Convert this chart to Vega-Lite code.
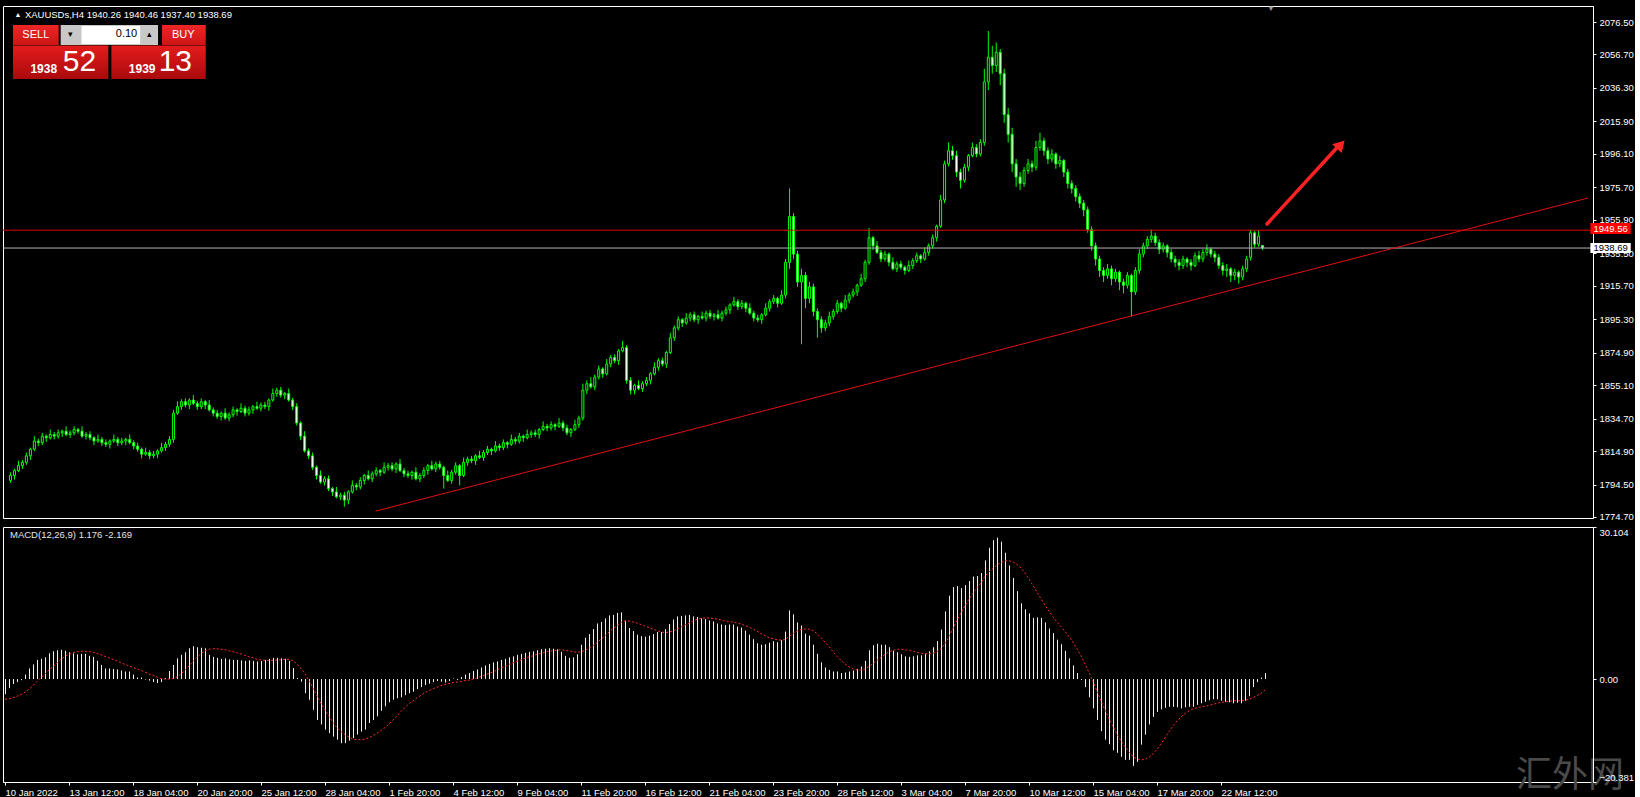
{
"$schema":"https://vega.github.io/schema/vega-lite/v6.json",
"background":"#000000",
"padding":{"left":2,"top":4,"right":0,"bottom":0},
"spacing":4,
"config":{"view":{"stroke":"#ffffff","strokeWidth":1},"axis":{"labelFont":"Liberation Sans","labelFontSize":9.5,"labelColor":"#ffffff","tickColor":"#ffffff","domainColor":"#ffffff","grid":false,"tickSize":3,"labelOverlap":false},"text":{"font":"Liberation Sans"}},
"datasets":{"bars":[
{"i":0,"o":1797,"h":1802,"l":1795.5,"c":1800,"m":-3,"s":-4},
{"i":1,"o":1800,"h":1804,"l":1797.5,"c":1803,"m":-1.8,"s":-3.9},
{"i":2,"o":1803,"h":1809,"l":1802,"c":1806,"m":-1,"s":-3.7},
{"i":3,"o":1806,"h":1809.5,"l":1804,"c":1808,"m":-0.6,"s":-3.4},
{"i":4,"o":1808,"h":1814,"l":1806.5,"c":1812,"m":-0.2,"s":-3.1},
{"i":5,"o":1812,"h":1817,"l":1809.5,"c":1816,"m":0.9,"s":-2.6},
{"i":6,"o":1816,"h":1824,"l":1815,"c":1821,"m":2.1,"s":-2},
{"i":7,"o":1821,"h":1822.5,"l":1818,"c":1820,"m":2.9,"s":-1.3},
{"i":8,"o":1820,"h":1826,"l":1818.5,"c":1824,"m":3.8,"s":-0.5},
{"i":9,"o":1824,"h":1825,"l":1820.5,"c":1823,"m":4,"s":0.3},
{"i":10,"o":1823,"h":1828,"l":1822,"c":1825,"m":4.3,"s":1},
{"i":11,"o":1825,"h":1826.5,"l":1822,"c":1824,"m":5.1,"s":1.8},
{"i":12,"o":1824,"h":1828,"l":1822.5,"c":1826,"m":5.5,"s":2.5},
{"i":13,"o":1826,"h":1828,"l":1823.5,"c":1827,"m":5.7,"s":3.2},
{"i":14,"o":1827,"h":1830,"l":1824,"c":1825,"m":5.8,"s":3.9},
{"i":15,"o":1825,"h":1827.5,"l":1823,"c":1826,"m":5.6,"s":4.5},
{"i":16,"o":1826,"h":1830,"l":1824.5,"c":1828,"m":5.3,"s":4.9},
{"i":17,"o":1828,"h":1829,"l":1825.5,"c":1827,"m":5.1,"s":5.2},
{"i":18,"o":1827,"h":1830,"l":1823,"c":1824,"m":4.9,"s":5.4},
{"i":19,"o":1824,"h":1826.5,"l":1822,"c":1825,"m":5,"s":5.5},
{"i":20,"o":1825,"h":1827,"l":1821.5,"c":1823,"m":5,"s":5.5},
{"i":21,"o":1823,"h":1824,"l":1818.5,"c":1821,"m":4.6,"s":5.4},
{"i":22,"o":1821,"h":1825,"l":1820,"c":1822,"m":4.4,"s":5.3},
{"i":23,"o":1822,"h":1823.5,"l":1818,"c":1820,"m":3.6,"s":5.1},
{"i":24,"o":1820,"h":1822,"l":1817.5,"c":1819,"m":2.8,"s":4.8},
{"i":25,"o":1819,"h":1822,"l":1816.5,"c":1821,"m":2.1,"s":4.5},
{"i":26,"o":1821,"h":1825,"l":1820,"c":1822,"m":2.1,"s":4.2},
{"i":27,"o":1822,"h":1823.5,"l":1818,"c":1820,"m":2,"s":3.9},
{"i":28,"o":1820,"h":1823,"l":1818.5,"c":1821,"m":1.9,"s":3.6},
{"i":29,"o":1821,"h":1823,"l":1818.5,"c":1822,"m":1.7,"s":3.2},
{"i":30,"o":1822,"h":1825,"l":1819,"c":1820,"m":1.5,"s":2.9},
{"i":31,"o":1820,"h":1821.5,"l":1816,"c":1818,"m":1.5,"s":2.6},
{"i":32,"o":1818,"h":1820,"l":1814.5,"c":1816,"m":0.9,"s":2.3},
{"i":33,"o":1816,"h":1817,"l":1810.5,"c":1813,"m":0.3,"s":2},
{"i":34,"o":1813,"h":1817,"l":1812,"c":1814,"m":0.3,"s":1.7},
{"i":35,"o":1814,"h":1815.5,"l":1810,"c":1812,"m":-0.1,"s":1.4},
{"i":36,"o":1812,"h":1815,"l":1810.5,"c":1813,"m":-0.3,"s":1},
{"i":37,"o":1813,"h":1816,"l":1810.5,"c":1815,"m":-0.6,"s":0.7},
{"i":38,"o":1815,"h":1820,"l":1814,"c":1817,"m":-0.8,"s":0.4},
{"i":39,"o":1817,"h":1820.5,"l":1815,"c":1819,"m":-0.6,"s":0.1},
{"i":40,"o":1819,"h":1824,"l":1817.5,"c":1822,"m":0.2,"s":0},
{"i":41,"o":1822,"h":1840,"l":1820,"c":1838,"m":1.6,"s":0},
{"i":42,"o":1838,"h":1845,"l":1837,"c":1842,"m":2.8,"s":0.1},
{"i":43,"o":1842,"h":1846.5,"l":1840,"c":1845,"m":4.1,"s":0.4},
{"i":44,"o":1845,"h":1847,"l":1841.5,"c":1843,"m":4.8,"s":1},
{"i":45,"o":1843,"h":1847,"l":1840.5,"c":1846,"m":5.3,"s":1.8},
{"i":46,"o":1846,"h":1849,"l":1843,"c":1844,"m":6.1,"s":2.6},
{"i":47,"o":1844,"h":1845.5,"l":1840,"c":1842,"m":6.5,"s":3.5},
{"i":48,"o":1842,"h":1847,"l":1840.5,"c":1845,"m":6.3,"s":4.3},
{"i":49,"o":1845,"h":1846,"l":1840.5,"c":1843,"m":6.2,"s":5},
{"i":50,"o":1843,"h":1846,"l":1839,"c":1840,"m":6.1,"s":5.6},
{"i":51,"o":1840,"h":1841.5,"l":1836,"c":1838,"m":4.8,"s":5.9},
{"i":52,"o":1838,"h":1840,"l":1834.5,"c":1836,"m":4.4,"s":6},
{"i":53,"o":1836,"h":1839,"l":1833.5,"c":1838,"m":4.2,"s":6},
{"i":54,"o":1838,"h":1841,"l":1834,"c":1835,"m":4,"s":5.9},
{"i":55,"o":1835,"h":1838.5,"l":1833,"c":1837,"m":4.1,"s":5.8},
{"i":56,"o":1837,"h":1842,"l":1835.5,"c":1840,"m":3.9,"s":5.6},
{"i":57,"o":1840,"h":1841,"l":1836.5,"c":1839,"m":3.8,"s":5.4},
{"i":58,"o":1839,"h":1844,"l":1838,"c":1841,"m":3.8,"s":5.2},
{"i":59,"o":1841,"h":1842.5,"l":1836,"c":1838,"m":3.7,"s":5},
{"i":60,"o":1838,"h":1842,"l":1836.5,"c":1840,"m":3.6,"s":4.7},
{"i":61,"o":1840,"h":1843,"l":1837.5,"c":1842,"m":3.7,"s":4.4},
{"i":62,"o":1842,"h":1845,"l":1840,"c":1841,"m":3.6,"s":4.2},
{"i":63,"o":1841,"h":1844.5,"l":1839,"c":1843,"m":3.5,"s":3.9},
{"i":64,"o":1843,"h":1845,"l":1840.5,"c":1842,"m":3.6,"s":3.8},
{"i":65,"o":1842,"h":1847,"l":1839.5,"c":1846,"m":3.8,"s":3.7},
{"i":66,"o":1846,"h":1853,"l":1845,"c":1850,"m":4,"s":3.7},
{"i":67,"o":1850,"h":1853.5,"l":1848,"c":1852,"m":4.2,"s":3.7},
{"i":68,"o":1852,"h":1854,"l":1847.5,"c":1849,"m":4.2,"s":3.8},
{"i":69,"o":1849,"h":1851,"l":1846.5,"c":1850,"m":4.1,"s":3.8},
{"i":70,"o":1850,"h":1853,"l":1845,"c":1846,"m":4,"s":3.9},
{"i":71,"o":1846,"h":1847.5,"l":1840,"c":1842,"m":3.6,"s":3.9},
{"i":72,"o":1842,"h":1844,"l":1830.5,"c":1832,"m":2.2,"s":3.6},
{"i":73,"o":1832,"h":1833,"l":1821.5,"c":1824,"m":0.2,"s":3},
{"i":74,"o":1824,"h":1827,"l":1814,"c":1815,"m":-0.5,"s":2.1},
{"i":75,"o":1815,"h":1816.5,"l":1810,"c":1812,"m":-2.8,"s":1},
{"i":76,"o":1812,"h":1814,"l":1803.5,"c":1805,"m":-4.1,"s":-0.3},
{"i":77,"o":1805,"h":1806,"l":1797.5,"c":1800,"m":-6.1,"s":-1.8},
{"i":78,"o":1800,"h":1803,"l":1795,"c":1796,"m":-8.1,"s":-3.3},
{"i":79,"o":1796,"h":1799.5,"l":1794,"c":1798,"m":-9,"s":-4.8},
{"i":80,"o":1798,"h":1800,"l":1790.5,"c":1792,"m":-10,"s":-6.1},
{"i":81,"o":1792,"h":1793,"l":1787.5,"c":1790,"m":-10.7,"s":-7.4},
{"i":82,"o":1790,"h":1793,"l":1786,"c":1787,"m":-11.4,"s":-8.6},
{"i":83,"o":1787,"h":1789.5,"l":1785,"c":1788,"m":-12,"s":-9.6},
{"i":84,"o":1788,"h":1790,"l":1781,"c":1785,"m":-12.7,"s":-10.4},
{"i":85,"o":1785,"h":1791,"l":1782.5,"c":1790,"m":-12.7,"s":-11},
{"i":86,"o":1790,"h":1797,"l":1789,"c":1794,"m":-12.2,"s":-11.5},
{"i":87,"o":1794,"h":1795.5,"l":1791,"c":1793,"m":-11.7,"s":-11.9},
{"i":88,"o":1793,"h":1799,"l":1791.5,"c":1797,"m":-11,"s":-12},
{"i":89,"o":1797,"h":1801,"l":1794.5,"c":1800,"m":-10.4,"s":-12},
{"i":90,"o":1800,"h":1803,"l":1797,"c":1798,"m":-10,"s":-11.9},
{"i":91,"o":1798,"h":1802.5,"l":1796,"c":1801,"m":-8.7,"s":-11.6},
{"i":92,"o":1801,"h":1805,"l":1799.5,"c":1803,"m":-8.1,"s":-11.2},
{"i":93,"o":1803,"h":1804,"l":1799.5,"c":1802,"m":-7.4,"s":-10.7},
{"i":94,"o":1802,"h":1808,"l":1801,"c":1805,"m":-6.3,"s":-10.2},
{"i":95,"o":1805,"h":1807.5,"l":1803,"c":1806,"m":-5.4,"s":-9.6},
{"i":96,"o":1806,"h":1808,"l":1802.5,"c":1804,"m":-4.6,"s":-8.9},
{"i":97,"o":1804,"h":1808,"l":1801.5,"c":1807,"m":-4.1,"s":-8.1},
{"i":98,"o":1807,"h":1810,"l":1802,"c":1803,"m":-3.8,"s":-7.3},
{"i":99,"o":1803,"h":1804.5,"l":1799,"c":1801,"m":-3.6,"s":-6.4},
{"i":100,"o":1801,"h":1803,"l":1798.5,"c":1800,"m":-3.2,"s":-5.6},
{"i":101,"o":1800,"h":1803,"l":1797.5,"c":1802,"m":-2.8,"s":-4.9},
{"i":102,"o":1802,"h":1805,"l":1797,"c":1798,"m":-2.5,"s":-4.3},
{"i":103,"o":1798,"h":1801.5,"l":1796,"c":1800,"m":-2,"s":-3.7},
{"i":104,"o":1800,"h":1805,"l":1798.5,"c":1803,"m":-1.6,"s":-3.2},
{"i":105,"o":1803,"h":1807,"l":1800.5,"c":1806,"m":-1.2,"s":-2.7},
{"i":106,"o":1806,"h":1809,"l":1803,"c":1804,"m":-0.9,"s":-2.3},
{"i":107,"o":1804,"h":1808.5,"l":1802,"c":1807,"m":-0.6,"s":-1.9},
{"i":108,"o":1807,"h":1809,"l":1803.5,"c":1805,"m":-0.4,"s":-1.6},
{"i":109,"o":1805,"h":1806,"l":1792,"c":1800,"m":-0.5,"s":-1.3},
{"i":110,"o":1800,"h":1803,"l":1796,"c":1797,"m":-0.7,"s":-1.1},
{"i":111,"o":1797,"h":1803.5,"l":1795,"c":1802,"m":-0.4,"s":-0.9},
{"i":112,"o":1802,"h":1808,"l":1800.5,"c":1806,"m":0.1,"s":-0.7},
{"i":113,"o":1806,"h":1807,"l":1794,"c":1800,"m":-0.2,"s":-0.6},
{"i":114,"o":1800,"h":1811,"l":1799,"c":1808,"m":0.4,"s":-0.5},
{"i":115,"o":1808,"h":1811.5,"l":1806,"c":1810,"m":0.9,"s":-0.3},
{"i":116,"o":1810,"h":1812,"l":1807.5,"c":1809,"m":1.2,"s":-0.2},
{"i":117,"o":1809,"h":1813,"l":1806.5,"c":1812,"m":1.6,"s":0},
{"i":118,"o":1812,"h":1815,"l":1810,"c":1811,"m":1.9,"s":0.2},
{"i":119,"o":1811,"h":1815.5,"l":1809,"c":1814,"m":2.3,"s":0.5},
{"i":120,"o":1814,"h":1818,"l":1812.5,"c":1816,"m":2.7,"s":0.8},
{"i":121,"o":1816,"h":1817,"l":1812.5,"c":1815,"m":3,"s":1.1},
{"i":122,"o":1815,"h":1821,"l":1814,"c":1818,"m":3.3,"s":1.4},
{"i":123,"o":1818,"h":1819.5,"l":1815,"c":1817,"m":3.5,"s":1.8},
{"i":124,"o":1817,"h":1822,"l":1815.5,"c":1820,"m":3.8,"s":2.2},
{"i":125,"o":1820,"h":1821,"l":1816.5,"c":1819,"m":4,"s":2.5},
{"i":126,"o":1819,"h":1825,"l":1818,"c":1822,"m":4.3,"s":2.9},
{"i":127,"o":1822,"h":1823.5,"l":1819,"c":1821,"m":4.5,"s":3.2},
{"i":128,"o":1821,"h":1826,"l":1819.5,"c":1824,"m":4.8,"s":3.5},
{"i":129,"o":1824,"h":1825,"l":1820.5,"c":1823,"m":5,"s":3.8},
{"i":130,"o":1823,"h":1828,"l":1822,"c":1825,"m":5.2,"s":4.1},
{"i":131,"o":1825,"h":1827.5,"l":1823,"c":1826,"m":5.4,"s":4.4},
{"i":132,"o":1826,"h":1828,"l":1823.5,"c":1825,"m":5.5,"s":4.6},
{"i":133,"o":1825,"h":1829,"l":1822.5,"c":1828,"m":5.7,"s":4.9},
{"i":134,"o":1828,"h":1833,"l":1827,"c":1830,"m":5.9,"s":5.1},
{"i":135,"o":1830,"h":1831.5,"l":1827,"c":1829,"m":6,"s":5.3},
{"i":136,"o":1829,"h":1833,"l":1827.5,"c":1831,"m":6.1,"s":5.5},
{"i":137,"o":1831,"h":1832,"l":1827.5,"c":1830,"m":6,"s":5.6},
{"i":138,"o":1830,"h":1835,"l":1829,"c":1832,"m":5.9,"s":5.7},
{"i":139,"o":1832,"h":1833.5,"l":1827,"c":1829,"m":5.4,"s":5.8},
{"i":140,"o":1829,"h":1831,"l":1824.5,"c":1826,"m":4.6,"s":5.7},
{"i":141,"o":1826,"h":1829,"l":1823.5,"c":1828,"m":4.2,"s":5.6},
{"i":142,"o":1828,"h":1834,"l":1827,"c":1831,"m":4.3,"s":5.4},
{"i":143,"o":1831,"h":1836.5,"l":1829,"c":1835,"m":4.9,"s":5.3},
{"i":144,"o":1835,"h":1856,"l":1833.5,"c":1852,"m":6.8,"s":5.4},
{"i":145,"o":1852,"h":1858,"l":1849.5,"c":1856,"m":8.2,"s":5.7},
{"i":146,"o":1856,"h":1860,"l":1853,"c":1854,"m":8.9,"s":6.1},
{"i":147,"o":1854,"h":1861.5,"l":1852,"c":1860,"m":9.9,"s":6.6},
{"i":148,"o":1860,"h":1867,"l":1858.5,"c":1865,"m":11,"s":7.2},
{"i":149,"o":1865,"h":1866,"l":1859.5,"c":1862,"m":11.3,"s":7.9},
{"i":150,"o":1862,"h":1871,"l":1861,"c":1868,"m":12,"s":8.6},
{"i":151,"o":1868,"h":1873.5,"l":1866,"c":1872,"m":12.6,"s":9.3},
{"i":152,"o":1872,"h":1874,"l":1868.5,"c":1870,"m":12.7,"s":10},
{"i":153,"o":1870,"h":1877,"l":1867.5,"c":1876,"m":13.1,"s":10.6},
{"i":154,"o":1876,"h":1882,"l":1875,"c":1878,"m":13.2,"s":11.2},
{"i":155,"o":1878,"h":1879.5,"l":1856,"c":1858,"m":11.6,"s":11.5},
{"i":156,"o":1858,"h":1860,"l":1849.5,"c":1852,"m":10.1,"s":11.5},
{"i":157,"o":1852,"h":1856,"l":1849.5,"c":1855,"m":9.5,"s":11.3},
{"i":158,"o":1855,"h":1858,"l":1852,"c":1853,"m":8.8,"s":11.1},
{"i":159,"o":1853,"h":1857.5,"l":1851,"c":1856,"m":8.5,"s":10.8},
{"i":160,"o":1856,"h":1860,"l":1854.5,"c":1858,"m":8.4,"s":10.5},
{"i":161,"o":1858,"h":1863,"l":1855.5,"c":1862,"m":8.6,"s":10.2},
{"i":162,"o":1862,"h":1869,"l":1861,"c":1866,"m":8.9,"s":9.9},
{"i":163,"o":1866,"h":1871.5,"l":1864,"c":1870,"m":9.3,"s":9.6},
{"i":164,"o":1870,"h":1872,"l":1866.5,"c":1868,"m":9.3,"s":9.3},
{"i":165,"o":1868,"h":1876,"l":1865.5,"c":1875,"m":9.9,"s":9.2},
{"i":166,"o":1875,"h":1887,"l":1874,"c":1884,"m":10.9,"s":9.3},
{"i":167,"o":1884,"h":1891.5,"l":1882,"c":1890,"m":11.8,"s":9.5},
{"i":168,"o":1890,"h":1897,"l":1888.5,"c":1895,"m":12.4,"s":9.9},
{"i":169,"o":1895,"h":1896,"l":1890.5,"c":1893,"m":12.5,"s":10.3},
{"i":170,"o":1893,"h":1899,"l":1892,"c":1896,"m":12.6,"s":10.7},
{"i":171,"o":1896,"h":1899.5,"l":1894,"c":1898,"m":12.7,"s":11.1},
{"i":172,"o":1898,"h":1900,"l":1893.5,"c":1895,"m":12.4,"s":11.5},
{"i":173,"o":1895,"h":1898,"l":1892.5,"c":1897,"m":12.3,"s":11.8},
{"i":174,"o":1897,"h":1900,"l":1895,"c":1896,"m":12,"s":12},
{"i":175,"o":1896,"h":1900.5,"l":1894,"c":1899,"m":11.9,"s":12.1},
{"i":176,"o":1899,"h":1901,"l":1895.5,"c":1897,"m":11.6,"s":12.1},
{"i":177,"o":1897,"h":1899,"l":1894.5,"c":1898,"m":11.4,"s":12},
{"i":178,"o":1898,"h":1901,"l":1895,"c":1896,"m":11,"s":11.9},
{"i":179,"o":1896,"h":1900.5,"l":1894,"c":1899,"m":10.8,"s":11.7},
{"i":180,"o":1899,"h":1903,"l":1897.5,"c":1901,"m":10.7,"s":11.5},
{"i":181,"o":1901,"h":1905,"l":1898.5,"c":1904,"m":10.8,"s":11.4},
{"i":182,"o":1904,"h":1909,"l":1903,"c":1906,"m":10.8,"s":11.3},
{"i":183,"o":1906,"h":1907.5,"l":1901,"c":1903,"m":10.4,"s":11.1},
{"i":184,"o":1903,"h":1907,"l":1901.5,"c":1905,"m":10.2,"s":10.9},
{"i":185,"o":1905,"h":1906,"l":1899.5,"c":1902,"m":9.6,"s":10.6},
{"i":186,"o":1902,"h":1905,"l":1898,"c":1899,"m":8.8,"s":10.3},
{"i":187,"o":1899,"h":1900.5,"l":1894,"c":1896,"m":7.9,"s":9.9},
{"i":188,"o":1896,"h":1898,"l":1893.5,"c":1895,"m":7.1,"s":9.5},
{"i":189,"o":1895,"h":1899,"l":1892.5,"c":1898,"m":6.8,"s":9},
{"i":190,"o":1898,"h":1905,"l":1897,"c":1902,"m":6.9,"s":8.6},
{"i":191,"o":1902,"h":1907.5,"l":1900,"c":1906,"m":7.2,"s":8.2},
{"i":192,"o":1906,"h":1910,"l":1904.5,"c":1908,"m":7.5,"s":8},
{"i":193,"o":1908,"h":1909,"l":1902.5,"c":1905,"m":7.3,"s":7.8},
{"i":194,"o":1905,"h":1913,"l":1904,"c":1910,"m":7.7,"s":7.7},
{"i":195,"o":1910,"h":1932,"l":1908,"c":1930,"m":9.4,"s":7.8},
{"i":196,"o":1930,"h":1975,"l":1926,"c":1958,"m":13.6,"s":8.4},
{"i":197,"o":1958,"h":1960,"l":1932,"c":1935,"m":12.8,"s":9},
{"i":198,"o":1935,"h":1937,"l":1915,"c":1918,"m":11.2,"s":9.5},
{"i":199,"o":1918,"h":1926,"l":1880,"c":1922,"m":10.6,"s":9.8},
{"i":200,"o":1922,"h":1924,"l":1902,"c":1908,"m":9,"s":9.9},
{"i":201,"o":1908,"h":1918,"l":1905,"c":1915,"m":8.6,"s":9.9},
{"i":202,"o":1915,"h":1917,"l":1897,"c":1900,"m":6.8,"s":9.6},
{"i":203,"o":1900,"h":1902,"l":1884,"c":1895,"m":5,"s":9},
{"i":204,"o":1895,"h":1897,"l":1887,"c":1890,"m":3.3,"s":8.2},
{"i":205,"o":1890,"h":1895,"l":1888,"c":1893,"m":2.3,"s":7.3},
{"i":206,"o":1893,"h":1900,"l":1891,"c":1897,"m":1.8,"s":6.4},
{"i":207,"o":1897,"h":1901.5,"l":1895,"c":1900,"m":1.5,"s":5.4},
{"i":208,"o":1900,"h":1907,"l":1898.5,"c":1905,"m":1.5,"s":4.5},
{"i":209,"o":1905,"h":1906,"l":1899.5,"c":1902,"m":1.2,"s":3.7},
{"i":210,"o":1902,"h":1910,"l":1901,"c":1907,"m":1.3,"s":3},
{"i":211,"o":1907,"h":1911.5,"l":1905,"c":1910,"m":1.5,"s":2.4},
{"i":212,"o":1910,"h":1914,"l":1908.5,"c":1912,"m":1.7,"s":2},
{"i":213,"o":1912,"h":1917,"l":1909.5,"c":1916,"m":2,"s":1.8},
{"i":214,"o":1916,"h":1923,"l":1915,"c":1920,"m":2.5,"s":1.8},
{"i":215,"o":1920,"h":1931.5,"l":1918,"c":1930,"m":3.6,"s":2},
{"i":216,"o":1930,"h":1951,"l":1928.5,"c":1945,"m":5.7,"s":2.5},
{"i":217,"o":1945,"h":1946,"l":1937.5,"c":1940,"m":6.7,"s":3.1},
{"i":218,"o":1940,"h":1943,"l":1935,"c":1936,"m":7,"s":3.7},
{"i":219,"o":1936,"h":1937.5,"l":1930,"c":1932,"m":6.8,"s":4.3},
{"i":220,"o":1932,"h":1937,"l":1930.5,"c":1935,"m":6.8,"s":4.9},
{"i":221,"o":1935,"h":1936,"l":1927.5,"c":1930,"m":6.3,"s":5.4},
{"i":222,"o":1930,"h":1933,"l":1925,"c":1926,"m":5.6,"s":5.7},
{"i":223,"o":1926,"h":1930.5,"l":1924,"c":1929,"m":5.3,"s":5.9},
{"i":224,"o":1929,"h":1931,"l":1925.5,"c":1927,"m":4.9,"s":5.9},
{"i":225,"o":1927,"h":1928,"l":1922.5,"c":1925,"m":4.5,"s":5.8},
{"i":226,"o":1925,"h":1931,"l":1924,"c":1928,"m":4.4,"s":5.7},
{"i":227,"o":1928,"h":1932.5,"l":1926,"c":1931,"m":4.5,"s":5.5},
{"i":228,"o":1931,"h":1936,"l":1929.5,"c":1934,"m":4.7,"s":5.3},
{"i":229,"o":1934,"h":1935,"l":1929.5,"c":1932,"m":4.7,"s":5.1},
{"i":230,"o":1932,"h":1939,"l":1931,"c":1936,"m":5,"s":5},
{"i":231,"o":1936,"h":1941.5,"l":1934,"c":1940,"m":5.5,"s":5},
{"i":232,"o":1940,"h":1947,"l":1938.5,"c":1945,"m":6.3,"s":5.1},
{"i":233,"o":1945,"h":1953,"l":1942.5,"c":1952,"m":7.5,"s":5.4},
{"i":234,"o":1952,"h":1971,"l":1951,"c":1968,"m":9.8,"s":6},
{"i":235,"o":1968,"h":1992,"l":1966,"c":1990,"m":13.4,"s":7},
{"i":236,"o":1990,"h":2003,"l":1988.5,"c":1998,"m":16.5,"s":8.4},
{"i":237,"o":1998,"h":2001,"l":1992.5,"c":1995,"m":18.2,"s":10},
{"i":238,"o":1995,"h":1998,"l":1982,"c":1985,"m":18.4,"s":11.6},
{"i":239,"o":1985,"h":1987,"l":1975,"c":1980,"m":18,"s":13.1},
{"i":240,"o":1980,"h":1990,"l":1978.5,"c":1988,"m":18.6,"s":14.5},
{"i":241,"o":1988,"h":1996,"l":1985.5,"c":1995,"m":19.4,"s":15.8},
{"i":242,"o":1995,"h":2003,"l":1994,"c":2000,"m":20.3,"s":17},
{"i":243,"o":2000,"h":2002,"l":1994,"c":1996,"m":20.4,"s":18.1},
{"i":244,"o":1996,"h":2005,"l":1994.5,"c":2003,"m":21,"s":19},
{"i":245,"o":2003,"h":2048,"l":2001,"c":2040,"m":23.5,"s":20.4},
{"i":246,"o":2040,"h":2071,"l":2035,"c":2055,"m":26,"s":21.2},
{"i":247,"o":2055,"h":2062,"l":2045,"c":2050,"m":27.5,"s":21.9},
{"i":248,"o":2050,"h":2064,"l":2046,"c":2058,"m":28,"s":22.6},
{"i":249,"o":2058,"h":2060,"l":2038,"c":2045,"m":27.2,"s":23.1},
{"i":250,"o":2045,"h":2048,"l":2015,"c":2020,"m":25,"s":23.4},
{"i":251,"o":2020,"h":2024,"l":2003,"c":2008,"m":22.5,"s":23.4},
{"i":252,"o":2008,"h":2012,"l":1985,"c":1990,"m":20,"s":23.2},
{"i":253,"o":1990,"h":1993,"l":1976,"c":1982,"m":17.4,"s":22.7},
{"i":254,"o":1982,"h":1985,"l":1974,"c":1978,"m":15,"s":22},
{"i":255,"o":1978,"h":1988,"l":1976,"c":1986,"m":13.8,"s":21},
{"i":256,"o":1986,"h":1993,"l":1984,"c":1990,"m":13,"s":19.8},
{"i":257,"o":1990,"h":1992,"l":1985,"c":1988,"m":12.1,"s":18.5},
{"i":258,"o":1988,"h":2004,"l":1986,"c":2000,"m":12.2,"s":17.2},
{"i":259,"o":2000,"h":2009,"l":1998,"c":2004,"m":12.1,"s":15.9},
{"i":260,"o":2004,"h":2006,"l":1995,"c":1998,"m":11.2,"s":14.6},
{"i":261,"o":1998,"h":2000,"l":1990,"c":1993,"m":10,"s":13.4},
{"i":262,"o":1993,"h":1999,"l":1991,"c":1996,"m":9.1,"s":12.3},
{"i":263,"o":1996,"h":1997,"l":1987,"c":1990,"m":7.8,"s":11.3},
{"i":264,"o":1990,"h":1995,"l":1988,"c":1992,"m":6.9,"s":10.4},
{"i":265,"o":1992,"h":1993,"l":1982,"c":1985,"m":5.6,"s":9.4},
{"i":266,"o":1985,"h":1987,"l":1975,"c":1978,"m":4.1,"s":8.4},
{"i":267,"o":1978,"h":1980,"l":1972,"c":1975,"m":2.7,"s":7.3},
{"i":268,"o":1975,"h":1977,"l":1967,"c":1970,"m":1.2,"s":6},
{"i":269,"o":1970,"h":1972,"l":1963,"c":1966,"m":-0.2,"s":4.6},
{"i":270,"o":1966,"h":1968,"l":1958,"c":1962,"m":-1.6,"s":3},
{"i":271,"o":1962,"h":1964,"l":1948,"c":1950,"m":-3.6,"s":1.3},
{"i":272,"o":1950,"h":1952,"l":1937,"c":1940,"m":-5.8,"s":-0.5},
{"i":273,"o":1940,"h":1942,"l":1928,"c":1932,"m":-8.1,"s":-2.4},
{"i":274,"o":1932,"h":1934,"l":1921,"c":1925,"m":-10.3,"s":-4.3},
{"i":275,"o":1925,"h":1927,"l":1918,"c":1922,"m":-12,"s":-6.1},
{"i":276,"o":1922,"h":1929,"l":1920,"c":1926,"m":-12.9,"s":-7.8},
{"i":277,"o":1926,"h":1928,"l":1916,"c":1920,"m":-14.1,"s":-9.4},
{"i":278,"o":1920,"h":1926,"l":1918,"c":1924,"m":-14.6,"s":-10.9},
{"i":279,"o":1924,"h":1925,"l":1913,"c":1918,"m":-15.4,"s":-12.2},
{"i":280,"o":1918,"h":1920,"l":1911,"c":1916,"m":-16,"s":-13.4},
{"i":281,"o":1916,"h":1924,"l":1914,"c":1922,"m":-16,"s":-14.4},
{"i":282,"o":1922,"h":1923,"l":1897,"c":1912,"m":-17.2,"s":-15.3},
{"i":283,"o":1912,"h":1927,"l":1910,"c":1925,"m":-16.4,"s":-15.8},
{"i":284,"o":1925,"h":1938,"l":1923,"c":1935,"m":-13,"s":-16},
{"i":285,"o":1935,"h":1942,"l":1933,"c":1940,"m":-11,"s":-15.9},
{"i":286,"o":1940,"h":1946,"l":1938,"c":1944,"m":-9,"s":-15.5},
{"i":287,"o":1944,"h":1950,"l":1942,"c":1946,"m":-7.5,"s":-14.8},
{"i":288,"o":1946,"h":1948,"l":1940,"c":1942,"m":-6.5,"s":-13.9},
{"i":289,"o":1942,"h":1944,"l":1935,"c":1938,"m":-6,"s":-12.8},
{"i":290,"o":1938,"h":1942,"l":1936,"c":1940,"m":-5.7,"s":-11.6},
{"i":291,"o":1940,"h":1941,"l":1933,"c":1936,"m":-5.5,"s":-10.4},
{"i":292,"o":1936,"h":1938,"l":1930,"c":1932,"m":-5.5,"s":-9.3},
{"i":293,"o":1932,"h":1934,"l":1927,"c":1930,"m":-5.6,"s":-8.3},
{"i":294,"o":1930,"h":1932,"l":1925,"c":1928,"m":-5.8,"s":-7.5},
{"i":295,"o":1928,"h":1934,"l":1926,"c":1932,"m":-5.6,"s":-6.8},
{"i":296,"o":1932,"h":1933,"l":1927,"c":1930,"m":-5.5,"s":-6.3},
{"i":297,"o":1930,"h":1932,"l":1925,"c":1928,"m":-5.5,"s":-5.9},
{"i":298,"o":1928,"h":1936,"l":1927,"c":1934,"m":-5.1,"s":-5.7},
{"i":299,"o":1934,"h":1937,"l":1930,"c":1932,"m":-4.8,"s":-5.5},
{"i":300,"o":1932,"h":1938,"l":1930,"c":1936,"m":-4.5,"s":-5.4},
{"i":301,"o":1936,"h":1941,"l":1934,"c":1938,"m":-4.2,"s":-5.2},
{"i":302,"o":1938,"h":1939,"l":1933,"c":1935,"m":-4,"s":-5},
{"i":303,"o":1935,"h":1937,"l":1930,"c":1933,"m":-4,"s":-4.8},
{"i":304,"o":1933,"h":1935,"l":1926,"c":1928,"m":-4.3,"s":-4.6},
{"i":305,"o":1928,"h":1930,"l":1922,"c":1925,"m":-4.5,"s":-4.5},
{"i":306,"o":1925,"h":1929,"l":1921,"c":1926,"m":-4.6,"s":-4.4},
{"i":307,"o":1926,"h":1927,"l":1918,"c":1922,"m":-4.8,"s":-4.3},
{"i":308,"o":1922,"h":1926,"l":1919,"c":1924,"m":-4.7,"s":-4.3},
{"i":309,"o":1924,"h":1925,"l":1917,"c":1921,"m":-4.8,"s":-4.3},
{"i":310,"o":1921,"h":1928,"l":1919,"c":1926,"m":-4.3,"s":-4.2},
{"i":311,"o":1926,"h":1934,"l":1924,"c":1932,"m":-3.4,"s":-4},
{"i":312,"o":1933,"h":1950,"l":1931,"c":1948,"m":-1.6,"s":-3.7},
{"i":313,"o":1948,"h":1949,"l":1939,"c":1941,"m":-0.6,"s":-3.3},
{"i":314,"o":1941,"h":1949.5,"l":1939.5,"c":1946,"m":0.3,"s":-2.8},
{"i":315,"o":1940.26,"h":1940.46,"l":1937.4,"c":1938.69,"m":1.176,"s":-2.169}
]},
"vconcat":[
{"width":1590,"height":512,"data":{"values":[{}]},
"resolve":{"axis":{"x":"independent","y":"independent"}},
"layer":[
{"data":{"name":"bars"},"mark":{"type":"rule","color":"#00ff00","strokeWidth":1,"xOffset":0.5},
"encoding":{"x":{"field":"i","type":"quantitative","scale":{"domain":[-0.5,397],"nice":false,"zero":false},"axis":null},
"y":{"field":"l","type":"quantitative","scale":{"domain":[1774.09,2086.26],"nice":false,"zero":false},"axis":{"orient":"right","title":null,"values":[2076.5,2056.7,2036.3,2015.9,1996.1,1975.7,1955.9,1935.5,1915.7,1895.3,1874.9,1855.1,1834.7,1814.9,1794.5,1774.7],"format":".2f","labelPadding":3,"tickSize":3,"labelOverlap":false,"labelBound":false,"labelFlush":false}},
"y2":{"field":"h"}}},
{"data":{"name":"bars"},"mark":{"type":"bar","size":2,"stroke":"#00ff00","strokeWidth":1,"xOffset":0.5},
"encoding":{"x":{"field":"i","type":"quantitative","axis":null},"y":{"field":"o","type":"quantitative","axis":null},"y2":{"field":"c"},
"fill":{"condition":{"test":"datum.c < datum.o","value":"#ffffff"},"value":"#000000"}}},
{"mark":{"type":"rule","color":"#e00000","strokeWidth":1},"encoding":{"y":{"datum":1949.56,"axis":null}}},
{"mark":{"type":"rule","color":"#b4b4b4","strokeWidth":1},"encoding":{"y":{"datum":1938.69,"axis":null}}},
{"mark":{"type":"rule","color":"#e01010","strokeWidth":1},"encoding":{"x":{"datum":92,"axis":null},"x2":{"datum":397},"y":{"datum":1778.3,"axis":null},"y2":{"datum":1969.2}}},
{"mark":{"type":"rule","color":"#ff2222","strokeWidth":3.5,"strokeCap":"round"},"encoding":{"x":{"datum":316.25,"axis":null},"x2":{"datum":334},"y":{"datum":1953.33,"axis":null},"y2":{"datum":2000.29}}},
{"mark":{"type":"point","shape":"triangle-up","angle":43,"size":170,"filled":true,"color":"#ff2222","opacity":1},"encoding":{"x":{"datum":334.8,"axis":null},"y":{"datum":2001.8,"axis":null}}},
{"mark":{"type":"text","text":"▼","color":"#9a9a9a","fontSize":8,"align":"center","baseline":"middle"},"encoding":{"x":{"datum":317.25,"axis":null},"y":{"datum":2084.4,"axis":null}}},
{"mark":{"type":"text","text":"▲","color":"#ffffff","fontSize":7,"align":"center","baseline":"middle"},"encoding":{"x":{"datum":2,"axis":null},"y":{"datum":2080.8,"axis":null}}},
{"mark":{"type":"text","text":"XAUUSDs,H4  1940.26 1940.46 1937.40 1938.69","color":"#ffffff","fontSize":9.5,"align":"left","baseline":"middle"},"encoding":{"x":{"datum":3.75,"axis":null},"y":{"datum":2080.8,"axis":null}}},
{"mark":{"type":"rect","fill":{"gradient":"linear","x1":0,"y1":0,"x2":0,"y2":1,"stops":[{"offset":0,"color":"#ee2626"},{"offset":1,"color":"#cc1515"}]}},"encoding":{"x":{"datum":0.75,"axis":null},"x2":{"datum":12.25},"y":{"datum":2074.68,"axis":null},"y2":{"datum":2062.48}}},
{"mark":{"type":"rect","fill":{"gradient":"linear","x1":0,"y1":0,"x2":0,"y2":1,"stops":[{"offset":0,"color":"#ee2626"},{"offset":1,"color":"#cc1515"}]}},"encoding":{"x":{"datum":38.25,"axis":null},"x2":{"datum":49.25},"y":{"datum":2074.68,"axis":null},"y2":{"datum":2062.48}}},
{"mark":{"type":"rect","fill":{"gradient":"linear","x1":0,"y1":0,"x2":0,"y2":1,"stops":[{"offset":0,"color":"#e41c1c"},{"offset":1,"color":"#a90a0c"}]}},"encoding":{"x":{"datum":0.75,"axis":null},"x2":{"datum":24.75},"y":{"datum":2062.2,"axis":null},"y2":{"datum":2041.75}}},
{"mark":{"type":"rect","fill":{"gradient":"linear","x1":0,"y1":0,"x2":0,"y2":1,"stops":[{"offset":0,"color":"#e41c1c"},{"offset":1,"color":"#a90a0c"}]}},"encoding":{"x":{"datum":25.5,"axis":null},"x2":{"datum":49.25},"y":{"datum":2062.2,"axis":null},"y2":{"datum":2041.75}}},
{"mark":{"type":"rect","fill":"#c8c8c8"},"encoding":{"x":{"datum":12.75,"axis":null},"x2":{"datum":37.25},"y":{"datum":2074.68,"axis":null},"y2":{"datum":2062.48}}},
{"mark":{"type":"rect","fill":"#ffffff"},"encoding":{"x":{"datum":18,"axis":null},"x2":{"datum":32.75},"y":{"datum":2074.1,"axis":null},"y2":{"datum":2063.1}}},
{"mark":{"type":"text","text":"SELL","color":"#ffffff","fontSize":11,"align":"center","baseline":"middle"},"encoding":{"x":{"datum":6.5,"axis":null},"y":{"datum":2068.6,"axis":null}}},
{"mark":{"type":"text","text":"BUY","color":"#ffffff","fontSize":11,"align":"center","baseline":"middle"},"encoding":{"x":{"datum":43.6,"axis":null},"y":{"datum":2068.6,"axis":null}}},
{"mark":{"type":"text","text":"0.10","color":"#000000","fontSize":11,"align":"right","baseline":"middle"},"encoding":{"x":{"datum":32,"axis":null},"y":{"datum":2068.9,"axis":null}}},
{"mark":{"type":"text","text":"▾","color":"#000000","fontSize":9,"align":"center","baseline":"middle"},"encoding":{"x":{"datum":15.3,"axis":null},"y":{"datum":2069,"axis":null}}},
{"mark":{"type":"text","text":"▴","color":"#000000","fontSize":9,"align":"center","baseline":"middle"},"encoding":{"x":{"datum":35,"axis":null},"y":{"datum":2069,"axis":null}}},
{"mark":{"type":"text","text":"1938","color":"#ffffff","fontSize":12,"fontWeight":"bold","align":"center","baseline":"middle"},"encoding":{"x":{"datum":8.5,"axis":null},"y":{"datum":2047.6,"axis":null}}},
{"mark":{"type":"text","text":"52","color":"#ffffff","fontSize":30,"align":"center","baseline":"middle"},"encoding":{"x":{"datum":17.5,"axis":null},"y":{"datum":2052,"axis":null}}},
{"mark":{"type":"text","text":"1939","color":"#ffffff","fontSize":12,"fontWeight":"bold","align":"center","baseline":"middle"},"encoding":{"x":{"datum":33.25,"axis":null},"y":{"datum":2047.6,"axis":null}}},
{"mark":{"type":"text","text":"13","color":"#ffffff","fontSize":30,"align":"center","baseline":"middle"},"encoding":{"x":{"datum":41.6,"axis":null},"y":{"datum":2052,"axis":null}}},
{"mark":{"type":"rect","fill":"#ff0000","clip":false},"encoding":{"x":{"datum":397.6,"axis":null},"x2":{"datum":407.75},"y":{"datum":1953.94,"axis":null},"y2":{"datum":1947.24}}},
{"mark":{"type":"text","text":"1949.56","color":"#ffffff","fontSize":9.5,"align":"center","baseline":"middle","clip":false},"encoding":{"x":{"datum":402.7,"axis":null},"y":{"datum":1950.5,"axis":null}}},
{"mark":{"type":"rect","fill":"#ffffff","clip":false},"encoding":{"x":{"datum":397.6,"axis":null},"x2":{"datum":407.75},"y":{"datum":1941.75,"axis":null},"y2":{"datum":1935.65}}},
{"mark":{"type":"text","text":"1938.69","color":"#000000","fontSize":9.5,"align":"center","baseline":"middle","clip":false},"encoding":{"x":{"datum":402.7,"axis":null},"y":{"datum":1938.7,"axis":null}}}
]},
{"width":1590,"height":255,"data":{"values":[{}]},
"resolve":{"axis":{"x":"independent","y":"independent"}},
"layer":[
{"mark":{"type":"text","text":"汇外网","font":"Noto Sans CJK SC","color":"#4a4a4a","fontSize":36,"align":"center","baseline":"middle","clip":false},"encoding":{"x":{"datum":391.25,"type":"quantitative","axis":null},"y":{"datum":-19.2,"type":"quantitative","axis":null}}},
{"data":{"name":"bars"},"mark":{"type":"rule","color":"#f0f0f0","strokeWidth":1,"xOffset":0.5},
"encoding":{"x":{"field":"i","type":"quantitative","scale":{"domain":[-0.5,397],"nice":false,"zero":false},
"axis":{"orient":"bottom","title":null,"values":[0,16,32,48,64,80,96,112,128,144,160,176,192,208,224,240,256,272,288,304],"labelExpr":"['10 Jan 2022','13 Jan 12:00','18 Jan 04:00','20 Jan 20:00','25 Jan 12:00','28 Jan 04:00','1 Feb 20:00','4 Feb 12:00','9 Feb 04:00','11 Feb 20:00','16 Feb 12:00','21 Feb 04:00','23 Feb 20:00','28 Feb 12:00','3 Mar 04:00','7 Mar 20:00','10 Mar 12:00','15 Mar 04:00','17 Mar 20:00','22 Mar 12:00'][round(datum.value/16)]","labelAlign":"left","labelPadding":2,"labelOverlap":false,"labelFlush":false,"labelBound":false,"tickSize":3}},
"y":{"field":"m","type":"quantitative","scale":{"domain":[-20.381,30.104],"nice":false,"zero":false},"axis":{"orient":"right","title":null,"values":[30.104,0,-20.381],"labelExpr":"datum.value == 0 ? '0.00' : format(datum.value, '.3f')","labelFlush":true,"labelOverlap":false,"labelPadding":3,"tickSize":3,"zindex":1}},
"y2":{"datum":0}}},
{"data":{"name":"bars"},"mark":{"type":"line","color":"#ff2a2a","strokeWidth":1,"strokeDash":[2,2]},"encoding":{"x":{"field":"i","type":"quantitative","axis":null},"y":{"field":"s","type":"quantitative","axis":null}}},
{"mark":{"type":"text","text":"MACD(12,26,9) 1.176 -2.169","color":"#e6e6e6","fontSize":9.5,"align":"left","baseline":"middle"},"encoding":{"x":{"datum":1.25,"axis":null},"y":{"datum":28.5,"axis":null}}}
]}
]
}
